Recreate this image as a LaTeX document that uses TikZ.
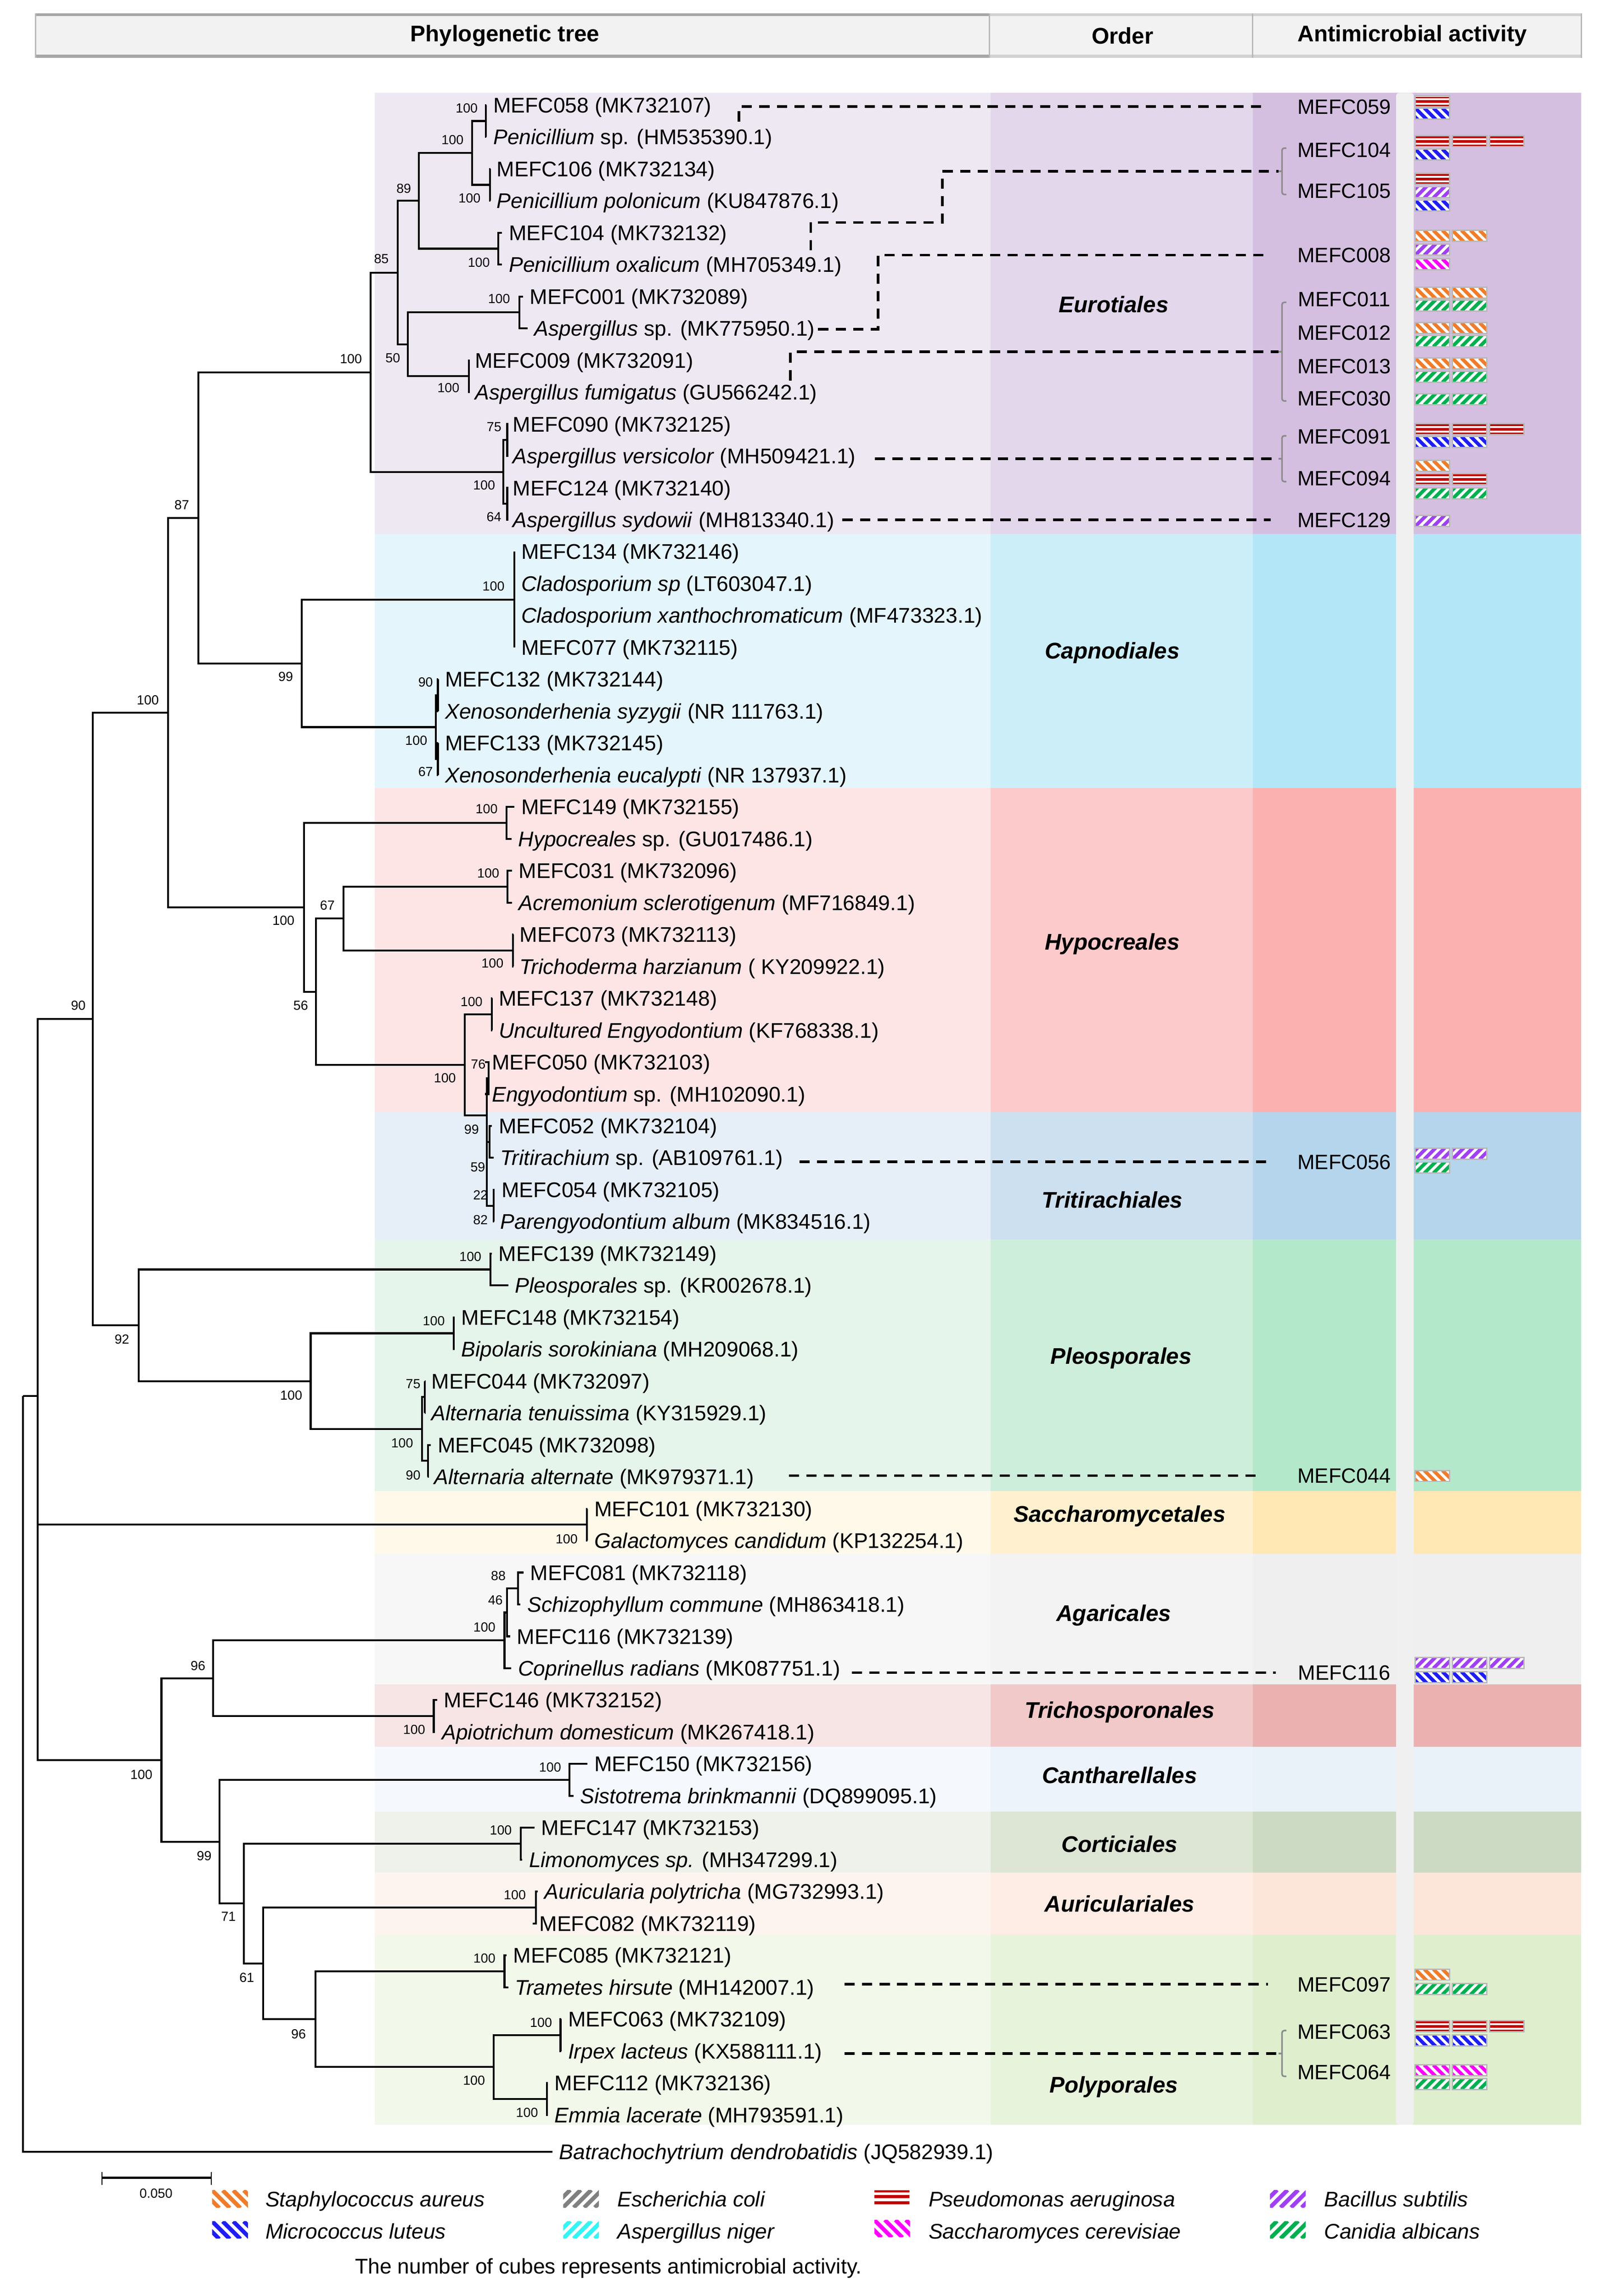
\documentclass[tikz,border=0pt]{standalone}
\usepackage{fontspec}
\setmainfont{Liberation Sans}
\definecolor{porange}{HTML}{F07C2A}
\definecolor{pblue}{HTML}{1E1EF5}
\definecolor{pred}{HTML}{C00000}
\definecolor{ppur}{HTML}{A040F5}
\definecolor{pmag}{HTML}{FF00FF}
\definecolor{pgreen}{HTML}{00B050}
\definecolor{pgrey}{HTML}{808080}
\definecolor{pcyan}{HTML}{33F5F5}
\definecolor{cubegrey}{HTML}{B8B8B8}
\definecolor{brkgrey}{HTML}{8C8C8C}
\definecolor{hdrfill}{HTML}{F2F2F2}
\definecolor{stripgrey}{HTML}{F0F0F0}
\newcommand\leaffont{\fontsize{14.5pt}{17pt}\selectfont}
\newcommand\bsfont{\fontsize{9pt}{10pt}\selectfont}
\newcommand\ordfont{\fontsize{15.5pt}{18pt}\selectfont\bfseries\itshape}
\newcommand\mlabfont{\fontsize{14.2pt}{17pt}\selectfont}
\newcommand\hdrfont{\fontsize{15.5pt}{18pt}\selectfont\bfseries}
\newcommand\band[5]{%
  \definecolor{bandA}{HTML}{#3}\definecolor{bandB}{HTML}{#4}\definecolor{bandC}{HTML}{#5}%
  \fill[bandA] (256,#1) rectangle (677.3,#2);
  \fill[bandB] (677,#1) rectangle (856.3,#2);
  \fill[bandC] (856,#1) rectangle (1080.5,#2);}
\newcommand\leaf[4]{\node[leaf] (#1) at ({#2-4.5},{50+21.8*#3}) {#4};}
\newcounter{bsc}
\newcommand\bsl[3]{\stepcounter{bsc}\node[bs] (bs\arabic{bsc}) at (#1,#2) {#3};}
\newcommand\stripecube[4]{%
  \begin{scope}
    \clip (#1,#2) rectangle ++(23.5,7.5);
    \fill[white] (#1,#2) rectangle ++(23.5,7.5);
    \foreach \kk in {-2,...,4}{%
      \ifnum#4=1
        \draw[#3,line width=2.4pt] ({#1+\kk*6.2},#2) -- ++(8,8);
      \else
        \draw[#3,line width=2.4pt] ({#1+\kk*6.2},{#2+7.5}) -- ++(8,-8);
      \fi}
  \end{scope}
  \draw[cubeedge] (#1,#2) rectangle ++(23.5,7.5);}
\newcommand\redcube[2]{%
  \fill[white] (#1,#2) rectangle ++(23.5,7.5);
  \fill[pred] (#1,{#2+0.6}) rectangle ++(23.5,1.1);
  \fill[pred] (#1,{#2+3.0}) rectangle ++(23.5,1.9);
  \fill[pred] (#1,{#2+6.1}) rectangle ++(23.5,1.1);
  \draw[cubeedge] (#1,#2) rectangle ++(23.5,7.5);}
\newcommand\cubes[4]{%
  \foreach \ci in {1,...,#2}{%
    \pgfmathsetmacro\cx{967+(\ci-1)*25.4}%
    \ifnum#4=0 \redcube{\cx}{#1}\else\stripecube{\cx}{#1}{#3}{#4}\fi}}
\newcommand\legsw[4]{%
  \begin{scope}
    \clip (#1,#2) rectangle ++(24.4,11.7);
    \foreach \kk in {-2,...,4}{%
      \ifnum#4=1
        \draw[#3,line width=2.8pt] ({#1+\kk*7.2},#2) -- ++(12,12);
      \else
        \draw[#3,line width=2.8pt] ({#1+\kk*7.2},{#2+11.7}) -- ++(12,-12);
      \fi}
  \end{scope}}
\newcommand\bracket[3]{%
  \coordinate (#1) at (873.5,{(#2+#3)/2});
  \draw[brk,rounded corners=1.5pt] (879,#2) -- (876,#2) -- (876,#3) -- (879,#3);
  \draw[brk] (876,{(#2+#3)/2}) -- (873.5,{(#2+#3)/2});}
\begin{document}
\begin{tikzpicture}[x=1pt,y=-1pt,
  branch/.style={line width=1.3pt},
  leaf/.style={anchor=west,inner xsep=4.5pt,inner ysep=0pt,font=\leaffont,text height=10.4pt,text depth=0pt},
  bs/.style={font=\bsfont,inner sep=0pt},
  dashline/.style={line width=1.8pt,dash pattern=on 7pt off 5pt},
  ordlab/.style={font=\ordfont,inner sep=0pt},
  mlab/.style={font=\mlabfont,inner sep=0pt,text height=10.2pt,text depth=0pt},
  brk/.style={draw=brkgrey,line width=1.1pt},
  cubeedge/.style={draw=cubegrey,line width=0.9pt},
  legtext/.style={font=\leaffont\itshape,anchor=west,inner sep=0pt,text height=10.4pt,text depth=0pt},
  hdr/.style={font=\hdrfont,inner sep=0pt}]
\useasboundingbox (0,0) rectangle (1093,1569);
\fill[white] (0,0) rectangle (1093,1569);
% header
\fill[hdrfill] (24.4,9.1) rectangle (1080.5,39.4);
\draw[line width=2pt,color=black!35] (24.4,10.1) -- (676,10.1) (24.4,38.4) -- (676,38.4);
\draw[line width=2pt,color=black!18] (676,10.1) -- (1080.5,10.1) (676,38.4) -- (1080.5,38.4);
\draw[line width=0.8pt,color=black!28] (24.4,9.1) -- (24.4,39.4) (676,9.1) -- (676,39.4) (855.8,9.1) -- (855.8,39.4) (1080.5,9.1) -- (1080.5,39.4);
\node[hdr] (h1) at (345,24.3) {Phylogenetic tree};
\node[hdr] (h2) at (767,24.3) {Order};
\node[hdr] (h3) at (965,24.3) {Antimicrobial activity};
% bands
\band{63.5}{365.3}{EEE8F3}{E3D7EC}{D5BFE1}
\band{365}{538.8}{E4F5FC}{CCEEF9}{B3E7F7}
\band{538.5}{760.3}{FDE5E6}{FCCACA}{FCB1B1}
\band{760}{847.3}{E6EFF8}{CDE0F0}{B4D5EC}
\band{847}{1019.3}{E5F5EC}{CDEEDB}{B4E8CB}
\band{1019}{1062.3}{FFF9EA}{FFF1D0}{FFE8B4}
\band{1062}{1151.3}{F7F7F7}{F3F3F3}{EFEFEF}
\band{1151}{1193.9}{F7E4E4}{F1C9C9}{EBB1B1}
\band{1193.6}{1238.3}{F5F9FD}{EDF3FA}{E9F1F9}
\band{1238}{1280.1}{EEF2EA}{DDE6D5}{CDDAC3}
\band{1279.8}{1322.3}{FEF4EF}{FDEDE5}{FCE6DA}
\band{1322}{1452}{F2F8EA}{E8F3DB}{DFEFCE}
\fill[stripgrey,rounded corners=2pt] (954,63.5) rectangle (966,1452);
% order labels
\node[ordlab] (o1) at (761,208) {Eurotiales};
\node[ordlab] (o2) at (760,446) {Capnodiales};
\node[ordlab] (o3) at (760,645) {Hypocreales};
\node[ordlab] (o4) at (760,820) {Tritirachiales};
\node[ordlab] (o5) at (766,928) {Pleosporales};
\node[ordlab] (o6) at (765,1036) {Saccharomycetales};
\node[ordlab] (o7) at (761,1104) {Agaricales};
\node[ordlab] (o8) at (765,1170) {Trichosporonales};
\node[ordlab] (o9) at (765,1213) {Cantharellales};
\node[ordlab] (o10) at (765,1260) {Corticiales};
\node[ordlab] (o11) at (765,1301) {Auriculariales};
\node[ordlab] (o12) at (761,1426) {Polyporales};
% leaves
\leaf{L1}{336.9}{1}{MEFC058 (MK732107)}
\leaf{L2}{336.9}{2}{\textit{Penicillium} sp. (HM535390.1)}
\leaf{L3}{339.3}{3}{MEFC106 (MK732134)}
\leaf{L4}{339.3}{4}{\textit{Penicillium polonicum} (KU847876.1)}
\leaf{L5}{347.6}{5}{MEFC104 (MK732132)}
\leaf{L6}{347.6}{6}{\textit{Penicillium oxalicum} (MH705349.1)}
\leaf{L7}{361.9}{7}{MEFC001 (MK732089)}
\leaf{L8}{365}{8}{\textit{Aspergillus} sp. (MK775950.1)}
\leaf{L9}{324.4}{9}{MEFC009 (MK732091)}
\leaf{L10}{324.4}{10}{\textit{Aspergillus fumigatus} (GU566242.1)}
\leaf{L11}{350.3}{11}{MEFC090 (MK732125)}
\leaf{L12}{350.3}{12}{\textit{Aspergillus versicolor} (MH509421.1)}
\leaf{L13}{350.3}{13}{MEFC124 (MK732140)}
\leaf{L14}{350.3}{14}{\textit{Aspergillus sydowii} (MH813340.1)}
\leaf{L15}{356}{15}{MEFC134 (MK732146)}
\leaf{L16}{356}{16}{\textit{Cladosporium sp} (LT603047.1)}
\leaf{L17}{356}{17}{\textit{Cladosporium xanthochromaticum} (MF473323.1)}
\leaf{L18}{356}{18}{MEFC077 (MK732115)}
\leaf{L19}{304}{19}{MEFC132 (MK732144)}
\leaf{L20}{304}{20}{\textit{Xenosonderhenia syzygii} (NR 111763.1)}
\leaf{L21}{304}{21}{MEFC133 (MK732145)}
\leaf{L22}{304}{22}{\textit{Xenosonderhenia eucalypti} (NR 137937.1)}
\leaf{L23}{356}{23}{MEFC149 (MK732155)}
\leaf{L24}{354}{24}{\textit{Hypocreales} sp. (GU017486.1)}
\leaf{L25}{354.3}{25}{MEFC031 (MK732096)}
\leaf{L26}{354.3}{26}{\textit{Acremonium sclerotigenum} (MF716849.1)}
\leaf{L27}{355}{27}{MEFC073 (MK732113)}
\leaf{L28}{355}{28}{\textit{Trichoderma harzianum} ( KY209922.1)}
\leaf{L29}{340.7}{29}{MEFC137 (MK732148)}
\leaf{L30}{340.7}{30}{\textit{Uncultured Engyodontium} (KF768338.1)}
\leaf{L31}{336}{31}{MEFC050 (MK732103)}
\leaf{L32}{336}{32}{\textit{Engyodontium} sp. (MH102090.1)}
\leaf{L33}{340.7}{33}{MEFC052 (MK732104)}
\leaf{L34}{341.8}{34}{\textit{Tritirachium} sp. (AB109761.1)}
\leaf{L35}{342.5}{35}{MEFC054 (MK732105)}
\leaf{L36}{341.8}{36}{\textit{Parengyodontium album} (MK834516.1)}
\leaf{L37}{340.5}{37}{MEFC139 (MK732149)}
\leaf{L38}{351.8}{38}{\textit{Pleosporales} sp. (KR002678.1)}
\leaf{L39}{315.1}{39}{MEFC148 (MK732154)}
\leaf{L40}{315.1}{40}{\textit{Bipolaris sorokiniana} (MH209068.1)}
\leaf{L41}{294.7}{41}{MEFC044 (MK732097)}
\leaf{L42}{294.7}{42}{\textit{Alternaria tenuissima} (KY315929.1)}
\leaf{L43}{298.9}{43}{MEFC045 (MK732098)}
\leaf{L44}{296.6}{44}{\textit{Alternaria alternate} (MK979371.1)}
\leaf{L45}{405.9}{45}{MEFC101 (MK732130)}
\leaf{L46}{405.9}{46}{\textit{Galactomyces candidum} (KP132254.1)}
\leaf{L47}{362.2}{47}{MEFC081 (MK732118)}
\leaf{L48}{360.1}{48}{\textit{Schizophyllum commune} (MH863418.1)}
\leaf{L49}{353}{49}{MEFC116 (MK732139)}
\leaf{L50}{353.9}{50}{\textit{Coprinellus radians} (MK087751.1)}
\leaf{L51}{303.1}{51}{MEFC146 (MK732152)}
\leaf{L52}{301.8}{52}{\textit{Apiotrichum domesticum} (MK267418.1)}
\leaf{L53}{405.9}{53}{MEFC150 (MK732156)}
\leaf{L54}{396.3}{54}{\textit{Sistotrema brinkmannii} (DQ899095.1)}
\leaf{L55}{369.7}{55}{MEFC147 (MK732153)}
\leaf{L56}{361.3}{56}{\textit{Limonomyces sp.} (MH347299.1)}
\leaf{L57}{371.8}{57}{\textit{Auricularia polytricha} (MG732993.1)}
\leaf{L58}{368.4}{58}{MEFC082 (MK732119)}
\leaf{L59}{350.5}{59}{MEFC085 (MK732121)}
\leaf{L60}{351.8}{60}{\textit{Trametes hirsute} (MH142007.1)}
\leaf{L61}{388}{61}{MEFC063 (MK732109)}
\leaf{L62}{388}{62}{\textit{Irpex lacteus} (KX588111.1)}
\leaf{L63}{378.8}{63}{MEFC112 (MK732136)}
\leaf{L64}{378.8}{64}{\textit{Emmia lacerate} (MH793591.1)}
\node[leaf] (L65) at (377.5,1470.5) {\textit{Batrachochytrium dendrobatidis} (JQ582939.1)};
% internal nodes
\coordinate (nA1) at (331.9,82.7);
\coordinate (nA2) at (334.7,126.3);
\coordinate (nA3) at (322.5,104.5);
\coordinate (nA4) at (340.5,169.9);
\coordinate (nA5) at (286.1,137.2);
\coordinate (nA6) at (355,213.5);
\coordinate (nA7) at (320.3,257.1);
\coordinate (nA8) at (278.6,235.3);
\coordinate (nA9) at (271.7,186.3);
\coordinate (nA10) at (346.6,300.7);
\coordinate (nA11) at (346.6,344.3);
\coordinate (nA12) at (343.8,322.5);
\coordinate (nA13) at (253.1,254.4);
\coordinate (nB1) at (351.5,409.7);
\coordinate (nB2a) at (299.2,475.1);
\coordinate (nB2b) at (299.2,518.7);
\coordinate (nB2) at (297.9,496.9);
\coordinate (nB3) at (206.2,453.3);
\coordinate (nC1) at (346.1,562.3);
\coordinate (nC2) at (346.8,605.9);
\coordinate (nC3) at (350.4,649.5);
\coordinate (nC4) at (234.8,627.7);
\coordinate (nC5) at (336.1,693.1);
\coordinate (nC6a) at (333.8,736.7);
\coordinate (nC6b) at (334.4,780.3);
\coordinate (nC6c) at (337.2,823.9);
\coordinate (nC6) at (332.5,762.2);
\coordinate (nC7) at (317.6,727.7);
\coordinate (nC8) at (215.9,677.7);
\coordinate (nC9) at (207.7,620);
\coordinate (nD1) at (135.6,353.9);
\coordinate (nD2) at (114.9,487);
\coordinate (nE1) at (335.1,867.5);
\coordinate (nE2) at (310.1,911.1);
\coordinate (nE3a) at (290.3,954.7);
\coordinate (nE3b) at (292.4,998.3);
\coordinate (nE3) at (288.5,976.5);
\coordinate (nE4) at (212.3,943.8);
\coordinate (nE5) at (94.9,905.6);
\coordinate (nD3) at (63.5,696.3);
\coordinate (nF1) at (400.9,1041.9);
\coordinate (nG1) at (353.9,1085.5);
\coordinate (nG2) at (346.5,1101.9);
\coordinate (nG3) at (344.7,1121);
\coordinate (nG4) at (296.4,1172.7);
\coordinate (nG5) at (145.7,1146.9);
\coordinate (nG6) at (389.2,1216.3);
\coordinate (nG7) at (355.9,1259.9);
\coordinate (nG8) at (366.3,1303.5);
\coordinate (nG9) at (344.7,1347.1);
\coordinate (nG10) at (383,1390.7);
\coordinate (nG11) at (373.8,1434.3);
\coordinate (nG12) at (337.2,1412.5);
\coordinate (nG13) at (215.6,1379.8);
\coordinate (nG14) at (179.8,1341.7);
\coordinate (nG15) at (166.5,1300.8);
\coordinate (nG16) at (149.9,1258.6);
\coordinate (nG17) at (110.3,1202.8);
\coordinate (nH1) at (25.8,954);
\coordinate (nH0) at (15.8,954);
% branches
\foreach \p/\q in {nA1/L1.west,nA1/L2.west,nA2/L3.west,nA2/L4.west,nA3/nA1,nA3/nA2,nA4/L5.west,nA4/L6.west,nA5/nA3,nA5/nA4,
  nA6/L7.west,nA6/L8.west,nA7/L9.west,nA7/L10.west,nA8/nA6,nA8/nA7,nA9/nA5,nA9/nA8,nA10/L11.west,nA10/L12.west,
  nA11/L13.west,nA11/L14.west,nA12/nA10,nA12/nA11,nA13/nA9,nA13/nA12,
  nB1/L15.west,nB1/L16.west,nB1/L17.west,nB1/L18.west,nB2a/L19.west,nB2a/L20.west,nB2b/L21.west,nB2b/L22.west,nB2/nB2a,nB2/nB2b,nB3/nB1,nB3/nB2,
  nC1/L23.west,nC1/L24.west,nC2/L25.west,nC2/L26.west,nC3/L27.west,nC3/L28.west,nC4/nC2,nC4/nC3,nC5/L29.west,nC5/L30.west,
  nC6a/L31.west,nC6a/L32.west,nC6b/L33.west,nC6b/L34.west,nC6c/L35.west,nC6c/L36.west,nC6/nC6a,nC6/nC6b,nC6/nC6c,nC7/nC5,nC7/nC6,
  nC8/nC4,nC8/nC7,nC9/nC1,nC9/nC8,nD1/nA13,nD1/nB3,nD2/nD1,nD2/nC9,
  nE1/L37.west,nE1/L38.west,nE2/L39.west,nE2/L40.west,nE3a/L41.west,nE3a/L42.west,nE3b/L43.west,nE3b/L44.west,nE3/nE3a,nE3/nE3b,
  nE4/nE2,nE4/nE3,nE5/nE1,nE5/nE4,nD3/nD2,nD3/nE5,nF1/L45.west,nF1/L46.west,
  nG1/L47.west,nG1/L48.west,nG2/nG1,nG2/L49.west,nG3/nG2,nG3/L50.west,nG4/L51.west,nG4/L52.west,nG5/nG3,nG5/nG4,
  nG6/L53.west,nG6/L54.west,nG7/L55.west,nG7/L56.west,nG8/L57.west,nG8/L58.west,nG9/L59.west,nG9/L60.west,
  nG10/L61.west,nG10/L62.west,nG11/L63.west,nG11/L64.west,nG12/nG10,nG12/nG11,nG13/nG9,nG13/nG12,nG14/nG8,nG14/nG13,
  nG15/nG7,nG15/nG14,nG16/nG6,nG16/nG15,nG17/nG5,nG17/nG16,nH1/nD3,nH1/nF1,nH1/nG17,nH0/nH1,nH0/L65.west}
  {\draw[branch] (\p) |- (\q);}
% bootstrap values
\bsl{318.9}{73.8}{100}\bsl{309.2}{95.6}{100}\bsl{320.8}{135.3}{100}\bsl{275.9}{128.9}{89}
\bsl{327.2}{179.3}{100}\bsl{260.6}{176.9}{85}\bsl{341}{204.2}{100}\bsl{268.4}{244.7}{50}
\bsl{306.4}{265}{100}\bsl{239.8}{245.3}{100}\bsl{337.6}{291.9}{75}\bsl{330.8}{331.5}{100}\bsl{337.5}{353.3}{64}
\bsl{124.2}{345}{87}\bsl{101}{478.3}{100}\bsl{53.5}{687}{90}
\bsl{337.2}{400.6}{100}\bsl{290.8}{466.2}{90}\bsl{284.4}{505.9}{100}\bsl{290.8}{527.5}{67}\bsl{195.2}{462.4}{99}
\bsl{332.5}{552.8}{100}\bsl{333.6}{596.6}{100}\bsl{336.5}{658.2}{100}\bsl{223.7}{618.8}{67}\bsl{322.2}{684.5}{100}
\bsl{304}{736.8}{100}\bsl{326.8}{727.3}{76}\bsl{322.2}{771.7}{99}\bsl{326.5}{797.7}{59}\bsl{328.3}{816.8}{22}
\bsl{328.3}{833.6}{82}\bsl{205.5}{687}{56}\bsl{193.7}{629}{100}
\bsl{321.4}{858.6}{100}\bsl{296.4}{902.7}{100}\bsl{199}{953.5}{100}\bsl{282.3}{945.8}{75}\bsl{274.8}{986.2}{100}
\bsl{282.3}{1008}{90}\bsl{83.3}{915.3}{92}\bsl{387.2}{1051.6}{100}
\bsl{340.5}{1076.7}{88}\bsl{338.5}{1093.5}{46}\bsl{331}{1112}{100}\bsl{283}{1181.8}{100}\bsl{135.3}{1138.2}{96}
\bsl{375.9}{1207.6}{100}\bsl{342.2}{1250.8}{100}\bsl{351.8}{1294.9}{100}\bsl{331}{1338.1}{100}\bsl{369.7}{1382.1}{100}
\bsl{360.1}{1443.6}{100}\bsl{323.9}{1421.8}{100}\bsl{204}{1390}{96}\bsl{168.6}{1351.4}{61}\bsl{156.1}{1309.7}{71}
\bsl{139.5}{1268.1}{99}\bsl{96.6}{1212.6}{100}
% isolate labels
\node[mlab] (m059) at (918.5,72.8) {MEFC059};
\node[mlab] (m104) at (918.5,102.5) {MEFC104};
\node[mlab] (m105) at (918.5,130.3) {MEFC105};
\node[mlab] (m008) at (918.5,174.3) {MEFC008};
\node[mlab] (m011) at (918.5,204.2) {MEFC011};
\node[mlab] (m012) at (918.5,227.4) {MEFC012};
\node[mlab] (m013) at (918.5,250.2) {MEFC013};
\node[mlab] (m030) at (918.5,272) {MEFC030};
\node[mlab] (m091) at (918.5,298.3) {MEFC091};
\node[mlab] (m094) at (918.5,326.6) {MEFC094};
\node[mlab] (m129) at (918.5,355.3) {MEFC129};
\node[mlab] (m056) at (918.5,793.9) {MEFC056};
\node[mlab] (m044) at (918.5,1008.4) {MEFC044};
\node[mlab] (m116) at (918.5,1143) {MEFC116};
\node[mlab] (m097) at (918.5,1356) {MEFC097};
\node[mlab] (m063) at (918.5,1388.2) {MEFC063};
\node[mlab] (m064) at (918.5,1416) {MEFC064};
% brackets
\bracket{brk1}{101.2}{132.9}
\bracket{brk2}{206.6}{274}
\bracket{brk3}{297.8}{329.1}
\bracket{brk4}{1387.6}{1418.9}
% dashed connectors
\coordinate (dA) at (505,83);
\coordinate (dB) at (554,171);
\coordinate (dB2) at (644,152);
\coordinate (dC) at (559,224.9);
\coordinate (dC2) at (600,174.3);
\coordinate (dD) at (540,260);
\coordinate (dE) at (597.8,313.45);
\coordinate (dF) at (575.6,355.3);
\coordinate (dG) at (546.2,793.9);
\coordinate (dH) at (539,1008.4);
\coordinate (dI) at (582,1143);
\coordinate (dJ) at (577,1356);
\coordinate (dK) at (577,1403.25);
\draw[dashline] (dA) |- ([xshift=-24pt]m059.west);
\draw[dashline] (dB) |- (dB2) |- (brk1);
\draw[dashline] (dC) -| (dC2) -- ([xshift=-18pt]m008.west);
\draw[dashline] (dD) |- (brk2);
\draw[dashline] (dE) -- (brk3);
\draw[dashline] (dF) -- ([xshift=-18pt]m129.west);
\draw[dashline] (dG) -- ([xshift=-20pt]m056.west);
\draw[dashline] (dH) -- ([xshift=-24pt]m044.west);
\draw[dashline] (dI) -- ([xshift=-15pt]m116.west);
\draw[dashline] (dJ) -- ([xshift=-20pt]m097.west);
\draw[dashline] (dK) -- (brk4);
% activity cubes
\cubes{65.5}{1}{pred}{0}\cubes{73.8}{1}{pblue}{1}
\cubes{92.6}{3}{pred}{0}\cubes{101.9}{1}{pblue}{1}
\cubes{118.4}{1}{pred}{0}\cubes{127.7}{1}{ppur}{-1}\cubes{136.8}{1}{pblue}{1}
\cubes{157.4}{2}{porange}{1}\cubes{166.9}{1}{ppur}{-1}\cubes{176.9}{1}{pmag}{1}
\cubes{196.3}{2}{porange}{1}\cubes{205.1}{2}{pgreen}{-1}
\cubes{220.5}{2}{porange}{1}\cubes{229.4}{2}{pgreen}{-1}
\cubes{244.7}{2}{porange}{1}\cubes{253.8}{2}{pgreen}{-1}
\cubes{269.1}{2}{pgreen}{-1}
\cubes{289.5}{3}{pred}{0}\cubes{298.2}{2}{pblue}{1}
\cubes{314.7}{1}{porange}{1}\cubes{323.6}{2}{pred}{0}\cubes{333.5}{2}{pgreen}{-1}
\cubes{352.3}{1}{ppur}{-1}
\cubes{784.7}{2}{ppur}{-1}\cubes{794.2}{1}{pgreen}{-1}
\cubes{1004.8}{1}{porange}{1}
\cubes{1132.6}{3}{ppur}{-1}\cubes{1142.3}{2}{pblue}{1}
\cubes{1345.6}{1}{porange}{1}\cubes{1355.5}{2}{pgreen}{-1}
\cubes{1380.8}{3}{pred}{0}\cubes{1390.6}{2}{pblue}{1}
\cubes{1411.1}{2}{pmag}{1}\cubes{1420.3}{2}{pgreen}{-1}
% scale bar
\coordinate (sb1) at (69.7,1488.2);
\coordinate (sb2) at (144.3,1488.2);
\draw[line width=1.4pt] (sb1) -- (sb2);
\draw[line width=0.8pt] (69.7,1484.4) -- (69.7,1493) (144.3,1484.4) -- (144.3,1493);
\node[bs] (sbl) at (106.6,1498.8) {0.050};
% legend
\legsw{145}{1496.8}{porange}{1}
\legsw{145}{1518}{pblue}{1}
\legsw{384.8}{1496.8}{pgrey}{-1}
\legsw{384.8}{1518}{pcyan}{-1}
\fill[pred] (597.4,1496.7) rectangle (621.4,1498.2) (597.4,1500) rectangle (621.4,1502.1) (597.4,1504.2) rectangle (621.4,1506.3);
\legsw{597.4}{1517}{pmag}{1}
\legsw{867.8}{1496.8}{ppur}{-1}
\legsw{867.8}{1518}{pgreen}{-1}
\node[legtext] (lg1) at (181.2,1502.7) {Staphylococcus aureus};
\node[legtext] (lg2) at (181.2,1524.7) {Micrococcus luteus};
\node[legtext] (lg3) at (421.7,1502.7) {Escherichia coli};
\node[legtext] (lg4) at (421.7,1524.7) {Aspergillus niger};
\node[legtext] (lg5) at (634.3,1502.7) {Pseudomonas aeruginosa};
\node[legtext] (lg6) at (634.3,1524.7) {Saccharomyces cerevisiae};
\node[legtext] (lg7) at (904.7,1502.7) {Bacillus subtilis};
\node[legtext] (lg8) at (904.7,1524.7) {Canidia albicans};
\node[font=\leaffont,inner sep=0pt] (cap) at (415.8,1550) {The number of cubes represents antimicrobial activity.};
\end{tikzpicture}
\end{document}
